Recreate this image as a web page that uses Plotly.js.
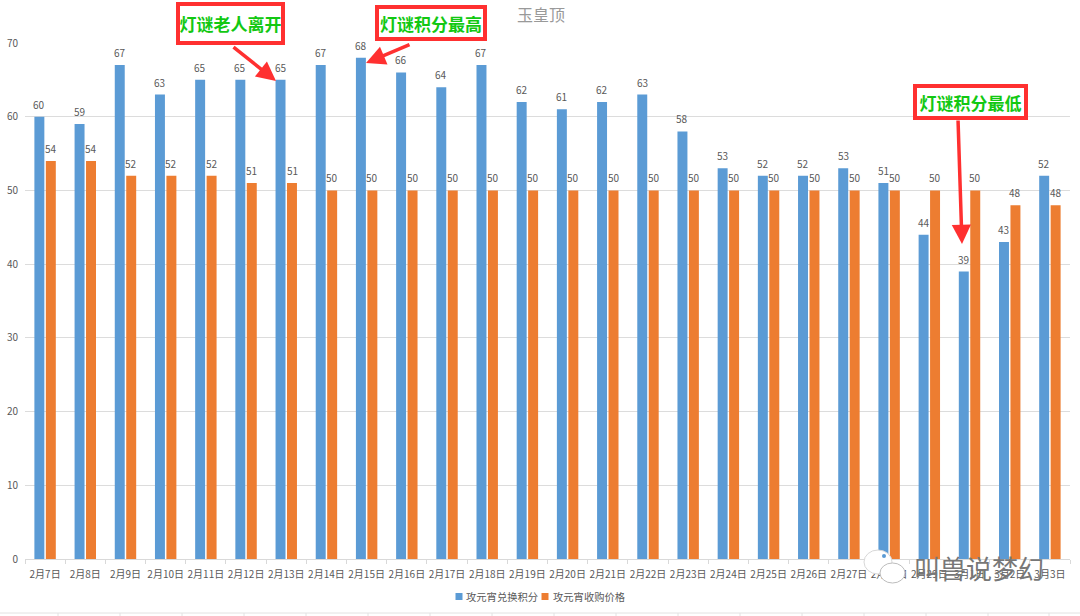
<!DOCTYPE html>
<html><head><meta charset="utf-8">
<script src="https://cdn.plot.ly/plotly-3.0.1.min.js"></script>
<style>html,body{margin:0;padding:0;background:#fff}#c{width:1080px;height:616px}</style>
</head><body><div id="c"></div>
<script>
const categories = ["2月7日","2月8日","2月9日","2月10日","2月11日","2月12日","2月13日","2月14日","2月15日","2月16日","2月17日","2月18日","2月19日","2月20日","2月21日","2月22日","2月23日","2月24日","2月25日","2月26日","2月27日","2月28日","2月29日","3月1日","3月2日","3月3日"];
const exchangePoints = [60,59,67,63,65,65,65,67,68,66,64,67,62,61,62,63,58,53,52,52,53,51,44,39,43,52];
const purchasePrice = [54,54,52,52,52,51,51,50,50,50,50,50,50,50,50,50,50,50,50,50,50,50,50,50,48,48];
const seriesNames = ["攻元宵兑换积分","攻元宵收购价格"];
const seriesColors = ['#5b9bd5','#ed7d31'];
const W=1080,H=616,L=25,R=1070,T=43,B=559;
const px=x=>(x-L)/(R-L), py=y=>(B-y)/(B-T);
const cjk='"Noto Sans CJK SC", sans-serif';
const labelFont={family:cjk,size:10,color:'#595959'};
const mk=(name,y,color)=>({type:'bar',name,x:categories,y,marker:{color},hoverinfo:'skip'});
const dataLabels=(vals,shift)=>vals.map((v,i)=>({xref:'x',yref:'y',x:categories[i],y:v,xshift:shift,yshift:12.5,xanchor:'center',yanchor:'middle',showarrow:false,text:String(v),font:labelFont}));
const box=(text,x0,x1,y0,y1)=>({xref:'paper',yref:'paper',x:px((x0+x1)/2),y:py((y0+y1)/2),xanchor:'center',yanchor:'middle',
  text:'<b>'+text+'</b>',showarrow:false,width:x1-x0-8,height:y1-y0-8,bgcolor:'#fff',bordercolor:'#ff3030',borderwidth:4,borderpad:0,
  font:{family:cjk,size:17,color:'#12c812'}});
const arrow=(x0,y0,x1,y1)=>({xref:'paper',yref:'paper',x:px(x1),y:py(y1),axref:'pixel',ayref:'pixel',ax:x0-x1,ay:y0-y1,
  text:'',showarrow:true,arrowhead:2,arrowsize:1.1,arrowwidth:3.5,arrowcolor:'#ff3030'});
const rect=(x0,x1,y0,y1,fill)=>({type:'rect',xref:'paper',yref:'paper',x0:px(x0),x1:px(x1),y0:py(y0),y1:py(y1),fillcolor:fill,line:{width:0}});
const legendText=(t,x)=>({xref:'paper',yref:'paper',x:px(x),y:py(596.5),xanchor:'left',yanchor:'middle',showarrow:false,text:t,font:{family:cjk,size:10.3,color:'#595959'}});
const sheetTicks=[802,864,926,988,1049,740,678,616,554,492,430,368,306,244,182,120,58].map(x=>({type:'line',xref:'paper',yref:'paper',x0:px(x),x1:px(x),y0:py(613),y1:py(616),line:{color:'#e2e2e2',width:1}}));
const layout={width:W,height:H,margin:{l:L,r:W-R,t:T,b:H-B,pad:0},paper_bgcolor:'#fff',plot_bgcolor:'#fff',
  barmode:'group',bargap:0.43,bargroupgap:0.13,showlegend:false,
  font:{family:cjk,color:'#595959',size:10},
  xaxis:{type:'category',automargin:false,tickmode:'array',tickvals:categories,ticktext:categories,tickson:'boundaries',ticks:'outside',ticklen:4,tickcolor:'#d9d9d9',
    linecolor:'#d9d9d9',showline:true,tickangle:0,tickfont:{family:cjk,size:10,color:'#595959'},showgrid:false,ticklabelstandoff:6},
  yaxis:{automargin:false,range:[0,70],dtick:10,gridcolor:'#dcdcdc',gridwidth:1,zeroline:false,showline:false,ticks:'',
    tickfont:{family:cjk,size:10,color:'#595959'},ticklabelstandoff:6},
  shapes:[
    {type:'line',xref:'paper',yref:'paper',x0:px(0),x1:px(1080),y0:py(613),y1:py(613),line:{color:'#e2e2e2',width:1}},
    ...sheetTicks,
    rect(455.5,462.5,593,600,seriesColors[0]), rect(541.5,548.5,593,600,seriesColors[1]),
    {type:'circle',xref:'paper',yref:'paper',x0:px(864),x1:px(892),y0:py(550),y1:py(574),fillcolor:'#fff',line:{color:'#d8d8d8',width:1}},
    {type:'circle',xref:'paper',yref:'paper',x0:px(880),x1:px(905),y0:py(563),y1:py(583),fillcolor:'#fff',line:{color:'#bdbdbd',width:1}},
    {type:'circle',xref:'paper',yref:'paper',x0:px(882),x1:px(886),y0:py(554),y1:py(558),fillcolor:'#5b9bd5',line:{width:0}}
  ],
  annotations:[
    ...dataLabels(exchangePoints,-5.75), ...dataLabels(purchasePrice,5.75),
    {xref:'paper',yref:'paper',x:px(541),y:py(16),xanchor:'center',yanchor:'middle',showarrow:false,text:'玉皇顶',font:{family:'"Liberation Serif","Noto Sans CJK SC",serif',size:16,color:'#999999'}},
    legendText(seriesNames[0],464), legendText(seriesNames[1],551),
    arrow(232,46,276,81), arrow(411,44,366,63), arrow(958,119,962,244),
    box('灯谜老人离开',176,285,2,45), box('灯谜积分最高',375,487,5,41), box('灯谜积分最低',913,1028,84,120),
    {xref:'paper',yref:'paper',x:px(979),y:py(567),xanchor:'center',yanchor:'middle',showarrow:false,text:'叫兽说梦幻',font:{family:cjk,size:26,color:'#777777'}}
  ]};
Plotly.newPlot('c',[mk(seriesNames[0],exchangePoints,seriesColors[0]),mk(seriesNames[1],purchasePrice,seriesColors[1])],layout,{displayModeBar:false,staticPlot:true});
</script></body></html>
